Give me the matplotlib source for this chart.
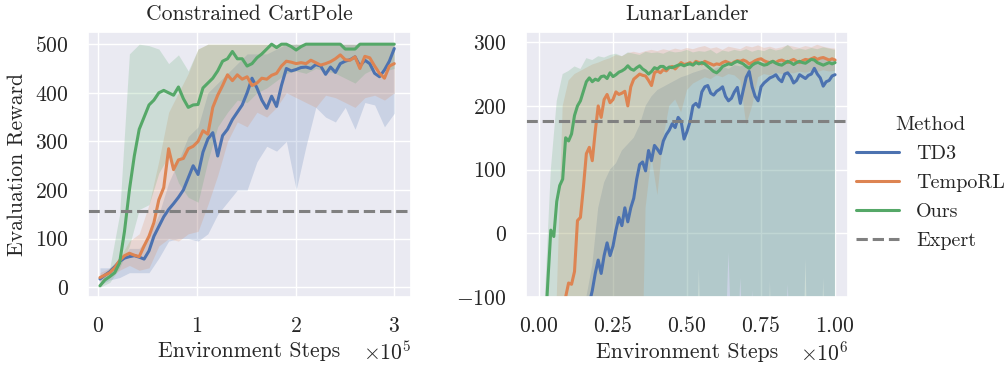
import numpy as np
import matplotlib
matplotlib.use('Agg')
import matplotlib.pyplot as plt
from matplotlib.lines import Line2D
import seaborn as sns

# Style: seaborn darkgrid with Computer Modern text
sns.set_theme(style='darkgrid')
plt.rcParams['font.family'] = 'serif'
plt.rcParams['font.serif'] = ['cmr10']
plt.rcParams['mathtext.fontset'] = 'cm'
plt.rcParams['axes.formatter.use_mathtext'] = True
fs = 15.6
plt.rcParams['font.size'] = fs
plt.rcParams['axes.titlesize'] = fs
plt.rcParams['axes.labelsize'] = fs
plt.rcParams['xtick.labelsize'] = fs
plt.rcParams['ytick.labelsize'] = fs
plt.rcParams['legend.fontsize'] = 14.5
plt.rcParams['legend.title_fontsize'] = 15
plt.rcParams['xtick.major.size'] = 0
plt.rcParams['ytick.major.size'] = 0
plt.rcParams['xtick.major.pad'] = 14
plt.rcParams['ytick.major.pad'] = 14

methods = ['TD3', 'TempoRL', 'Ours']
colors = ['#4c72b0', '#dd8452', '#55a868']

# Constrained CartPole (steps in units of 1e5)
cp_td3 = [17, 25, 32, 42, 53, 60, 63, 65, 62, 58, 75, 105, 125, 145, 160,
          172, 185, 200, 225, 250, 232, 278, 305, 318, 270, 312, 325, 345, 360, 375,
          400, 430, 410, 385, 368, 393, 372, 415, 450, 445, 448, 452, 453, 450, 458,
          455, 438, 453, 442, 460, 465, 468, 474, 455, 467, 460, 440, 433, 447, 465, 491]
cp_tempo = [20, 25, 30, 40, 55, 65, 70, 66, 63, 85, 105, 133, 180, 205, 285,
            242, 262, 265, 285, 290, 300, 322, 315, 370, 395, 415, 437, 425, 437, 428,
            433, 415, 420, 430, 428, 436, 440, 455, 465, 463, 460, 462, 460, 467, 462,
            457, 460, 464, 470, 478, 468, 467, 474, 450, 475, 472, 455, 440, 430, 455, 460]
cp_ours = [3, 15, 22, 30, 50, 115, 200, 270, 325, 350, 375, 385, 400, 405, 400,
           395, 412, 388, 370, 375, 376, 410, 420, 430, 445, 465, 470, 485, 470, 470,
           455, 460, 472, 480, 490, 500, 493, 500, 500, 495, 488, 495, 500, 500, 500,
           500, 500, 500, 500, 500, 490, 490, 490, 500, 500, 500, 500, 500, 500, 500, 500]

# Confidence bands (coarser grid)
cp_td3_lo = [5, 15, 20, 30, 30, 30, 60, 95, 100, 100, 95, 110, 150, 175, 200, 200,
             258, 290, 280, 300, 200, 290, 370, 350, 340, 370, 325, 380, 375, 330, 358]
cp_td3_hi = [40, 40, 55, 80, 80, 105, 150, 215, 260, 310, 330, 400, 420, 440, 460, 480,
             480, 480, 490, 500, 500, 500, 500, 500, 500, 500, 500, 500, 500, 500, 500]
cp_tempo_lo = [12, 20, 35, 45, 35, 40, 85, 100, 95, 110, 115, 170, 230, 300, 340, 330,
               360, 350, 370, 400, 390, 380, 370, 395, 390, 380, 370, 390, 395, 385, 400]
cp_tempo_hi = [30, 40, 60, 95, 110, 170, 260, 360, 400, 440, 490, 500, 500, 500, 500, 500,
               500, 500, 500, 500, 500, 500, 500, 500, 500, 500, 500, 500, 500, 500, 500]
cp_ours_lo = [0, 10, 40, 85, 160, 170, 235, 270, 215, 185, 175, 260, 330, 360, 385, 380,
              400, 410, 425, 440, 445, 440, 450, 445, 440, 430, 420, 440, 450, 445, 450]
cp_ours_hi = [10, 40, 150, 480, 500, 497, 490, 460, 478, 445, 490, 500, 500, 500, 500, 500,
              500, 500, 500, 500, 500, 500, 500, 500, 500, 500, 500, 500, 500, 500, 500]
cp_expert = 156

# LunarLander (steps in units of 1e6)
ll_td3 = [-420, -410, -400, -390, -380, -370, -355, -340, -325, -305,
          -285, -265, -240, -215, -190, -165, -140, -110, -90, -63,
          -42, -63, -35, -15, -35, -20, 5, 25, 12, 40,
          18, 40, 55, 85, 108, 112, 98, 130, 114, 138,
          132, 125, 145, 155, 162, 172, 166, 182, 176, 148,
          160, 175, 200, 204, 198, 222, 230, 232, 220, 217,
          223, 226, 230, 215, 208, 212, 222, 229, 204, 225,
          245, 254, 230, 215, 208, 230, 236, 240, 244, 246,
          249, 242, 238, 250, 252, 246, 236, 240, 249, 246,
          243, 248, 250, 259, 250, 244, 231, 238, 240, 247, 249]
ll_tempo = [-350, -330, -300, -280, -250, -220, -190, -160, -130, -100,
            -78, -80, -60, 20, 25, 72, 125, 135, 114, 160,
            200, 182, 210, 218, 205, 210, 222, 218, 220, 223,
            200, 230, 242, 246, 250, 248, 247, 240, 232, 252,
            255, 252, 257, 255, 260, 262, 258, 263, 268, 265,
            266, 268, 265, 270, 268, 266, 270, 268, 266, 264,
            266, 265, 268, 270, 268, 266, 269, 271, 270, 272,
            270, 266, 268, 271, 273, 274, 271, 269, 268, 270,
            268, 271, 272, 270, 268, 271, 273, 270, 268, 271,
            273, 272, 274, 276, 273, 275, 276, 274, 272, 274, 272]
ll_ours = [-300, -250, -160, -75, 5, -5, 50, 75, 85, 150,
           145, 156, 185, 200, 208, 223, 238, 244, 238, 242,
           240, 246, 247, 243, 252, 246, 249, 253, 255, 258,
           263, 258, 256, 260, 263, 258, 255, 250, 254, 260,
           258, 262, 262, 258, 261, 260, 262, 264, 265, 263,
           265, 266, 264, 268, 266, 268, 266, 262, 258, 254,
           252, 256, 262, 264, 266, 265, 268, 270, 268, 266,
           262, 259, 264, 267, 268, 266, 264, 265, 268, 270,
           267, 265, 264, 267, 270, 268, 265, 268, 270, 268,
           267, 270, 273, 272, 268, 266, 264, 266, 268, 266, 268]

ll_td3_lo = [-450, -450, -450, -450, -450, -450, -450, -450, -450, -450,
             -450, -450, -450, -450, -450, -450, -450, -450, -450, -450,
             -450, -450, -450, -450, -450, -450, -450, -55, -450, -450,
             -450, -450, -450, -450, -450, -450, -450, -450, -450, -75,
             -450, -450, -450, -450, -450, -40, -450, -450, -70, -450, -450]
ll_td3_hi = [-350, -330, -300, -280, -250, -220, -190, -160, -100, -50,
             40, 80, 100, 110, 130, 140, 150, 170, 200, 215,
             225, 230, 235, 240, 245, 248, 252, 255, 258, 255,
             260, 262, 258, 264, 262, 266, 268, 264, 268, 270,
             266, 270, 272, 268, 270, 273, 270, 272, 274, 271, 272]
ll_tempo_lo = [-400, -400, -400, -400, -400, -400, -400, -400, -400, -400,
               -400, -400, -400, -400, -400, -400, -400, -400, 40, 120,
               60, 150, 200, 210, 190, 225, 235, 240, 245, 242,
               248, 245, 250, 248, 240, 170, 200, 245, 250, 248,
               252, 250, 253, 251, 254, 252, 255, 253, 256, 254, 255]
ll_tempo_hi = [-250, -200, -150, -100, 200, 240, 250, 255, 260, 265,
               268, 272, 275, 280, 278, 283, 285, 283, 286, 288,
               286, 289, 287, 290, 288, 291, 289, 292, 294, 290,
               292, 288, 293, 291, 289, 294, 292, 295, 291, 293,
               290, 292, 295, 293, 291, 294, 292, 296, 293, 291, 290]
ll_ours_lo = [-300, -300, -300, -300, -300, -300, -300, -300, -300, -300,
              -300, -300, -300, -300, -300, -300, -300, -300, -300, -300,
              -300, -300, -300, -300, -300, -300, -300, -300, -300, -300,
              -300, -300, -30, -300, -70, -300, -90, -300, -300, -300,
              -300, -300, -80, -300, -300, -300, -300, -300, -300, -300, -300]
ll_ours_hi = [-200, -100, 100, 208, 250, 255, 262, 258, 275, 272,
              278, 276, 280, 282, 278, 284, 282, 280, 285, 283,
              284, 282, 286, 284, 285, 288, 284, 286, 285, 288,
              282, 287, 285, 288, 286, 289, 285, 288, 286, 290,
              287, 289, 296, 288, 290, 288, 291, 289, 292, 290, 288]
ll_expert = 177

# x grids
x_cp = np.linspace(0.02, 3.0, len(cp_ours)) * 1e5
xb_cp = np.linspace(0.02, 3.0, len(cp_ours_lo)) * 1e5
x_ll = np.linspace(0.0, 1.0, len(ll_ours)) * 1e6
xb_ll = np.linspace(0.0, 1.0, len(ll_ours_lo)) * 1e6

fig = plt.figure(figsize=(10.07, 3.66), dpi=100)
ax1 = fig.add_axes([0.0874, 0.1885, 0.3207, 0.724])
ax2 = fig.add_axes([0.5223, 0.1885, 0.3199, 0.724])

# Left panel
cp_means = [cp_td3, cp_tempo, cp_ours]
cp_los = [cp_td3_lo, cp_tempo_lo, cp_ours_lo]
cp_his = [cp_td3_hi, cp_tempo_hi, cp_ours_hi]
for m, lo, hi, c in zip(cp_means, cp_los, cp_his, colors):
    ax1.fill_between(xb_cp, lo, hi, color=c, alpha=0.2, lw=0)
for m, c in zip(cp_means, colors):
    ax1.plot(x_cp, m, color=c, lw=2.2)
ax1.axhline(cp_expert, color='#808080', ls='--', lw=2.2)
ax1.set_xlim(-0.101e5, 3.169e5)
ax1.set_ylim(-20, 525)
ax1.set_xticks([0, 1e5, 2e5, 3e5])
ax1.set_yticks([0, 100, 200, 300, 400, 500])
ax1.set_title('Constrained CartPole', pad=9)
ax1.set_xlabel('Environment Steps', labelpad=4)
ax1.set_ylabel('Evaluation Reward', labelpad=6)

# Right panel
ll_means = [ll_td3, ll_tempo, ll_ours]
ll_los = [ll_td3_lo, ll_tempo_lo, ll_ours_lo]
ll_his = [ll_td3_hi, ll_tempo_hi, ll_ours_hi]
for m, lo, hi, c in zip(ll_means, ll_los, ll_his, colors):
    ax2.fill_between(xb_ll, lo, hi, color=c, alpha=0.2, lw=0)
for m, c in zip(ll_means, colors):
    ax2.plot(x_ll, m, color=c, lw=2.2)
ax2.axhline(ll_expert, color='#808080', ls='--', lw=2.2)
ax2.set_xlim(-0.044e6, 1.044e6)
ax2.set_ylim(-100, 316)
ax2.set_xticks([0, 0.25e6, 0.5e6, 0.75e6, 1e6])
ax2.set_yticks([-100, 0, 100, 200, 300])
ax2.set_title('LunarLander', pad=9)
ax2.set_xlabel('Environment Steps', labelpad=4)

for ax in [ax1, ax2]:
    ax.ticklabel_format(axis='x', style='sci', scilimits=(0, 0), useMathText=True)

# Legend outside on the right
handles = [Line2D([0], [0], color=c, lw=2.2) for c in colors]
handles.append(Line2D([0], [0], color='#808080', lw=2.2, ls='--'))
fig.legend(handles, methods + ['Expert'], title='Method', loc='center left',
           bbox_to_anchor=(0.836, 0.5), frameon=False, borderpad=0.2,
           labelspacing=0.55, handlelength=2.14, handletextpad=0.85)

plt.savefig('out.png', dpi=100)
